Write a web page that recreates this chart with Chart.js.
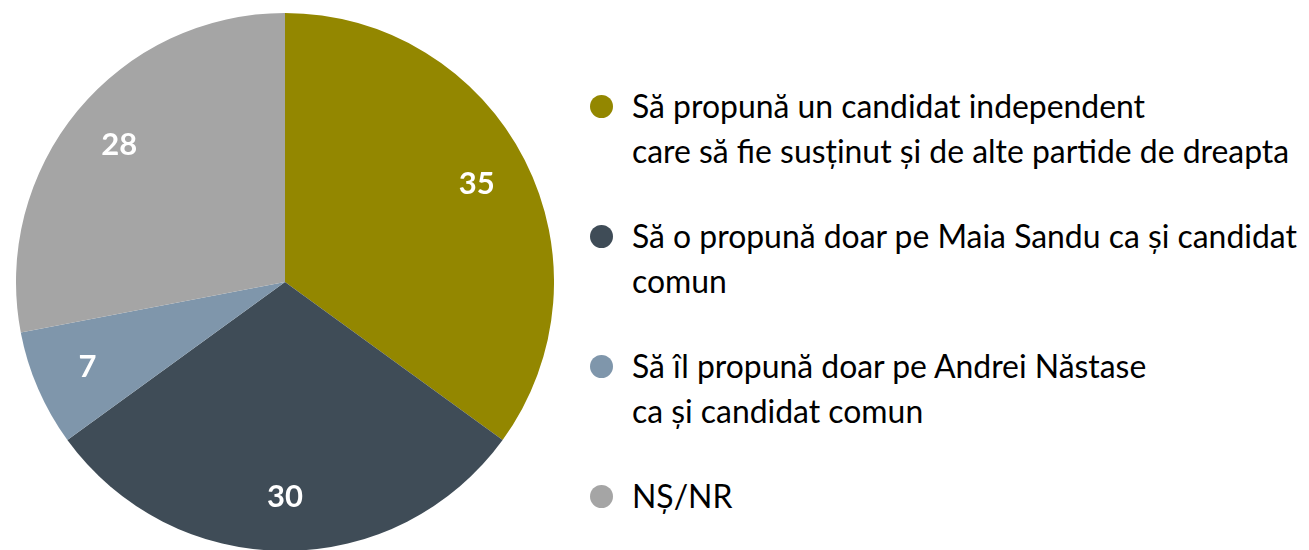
<!DOCTYPE html>
<html>
<head>
<meta charset="utf-8">
<script src="https://cdn.jsdelivr.net/npm/chart.js@4.4.1/dist/chart.umd.min.js"></script>
<style>
  html, body { margin: 0; padding: 0; background: #fff; overflow: hidden; }
  body { width: 1309px; height: 550px; position: relative; font-family: Lato, "Open Sans", sans-serif; }
  #pieWrap { position: absolute; left: 16px; top: 13px; width: 538px; height: 538px; }
  #legend { position: absolute; left: 590px; top: 84px; color: #000; font-size: 31.9px; line-height: 45px; white-space: nowrap; }
  .item { display: flex; align-items: flex-start; margin-bottom: 40px; }
  .dot { width: 23px; height: 23px; border-radius: 50%; flex: none; margin-top: 11px; margin-right: 19px; }
</style>
</head>
<body>
<div id="pieWrap"><canvas id="pieCanvas"></canvas></div>
<div id="legend"></div>
<script>
const labels = [
  ["Să propună un candidat independent", "care să fie susținut și de alte partide de dreapta"],
  ["Să o propună doar pe Maia Sandu ca și candidat", "comun"],
  ["Să îl propună doar pe Andrei Năstase", "ca și candidat comun"],
  ["NȘ/NR"],
];
const values = [35, 30, 7, 28];
const colors = ["#938700", "#3F4C57", "#7F96AB", "#A5A5A5"];

// numbers inside slices
const sliceLabels = {
  id: "sliceLabels",
  afterDatasetsDraw(chart) {
    const ctx = chart.ctx;
    const meta = chart.getDatasetMeta(0);
    ctx.save();
    ctx.fillStyle = "#fff";
    ctx.font = "bold 31px Lato, 'Open Sans', sans-serif";
    ctx.textAlign = "center";
    ctx.textBaseline = "middle";
    meta.data.forEach((arc, i) => {
      const mid = (arc.startAngle + arc.endAngle) / 2;
      const r = arc.outerRadius * 0.8;
      ctx.fillText(String(values[i]), arc.x + Math.cos(mid) * r, arc.y + Math.sin(mid) * r);
    });
    ctx.restore();
  }
};

new Chart(document.getElementById("pieCanvas"), {
  type: "pie",
  data: {
    labels: labels.map(l => l.join(" ")),
    datasets: [{ data: values, backgroundColor: colors, borderWidth: 0 }],
  },
  options: {
    responsive: true,
    maintainAspectRatio: false,
    animation: false,
    layout: { padding: 0 },
    plugins: { legend: { display: false }, tooltip: { enabled: false } },
  },
  plugins: [sliceLabels],
});

document.getElementById("legend").innerHTML = labels.map((l, i) => `
  <div class="item">
    <span class="dot" style="background:${colors[i]}"></span>
    <div>${l.join("<br>")}</div>
  </div>
`).join("");
</script>
</body>
</html>
